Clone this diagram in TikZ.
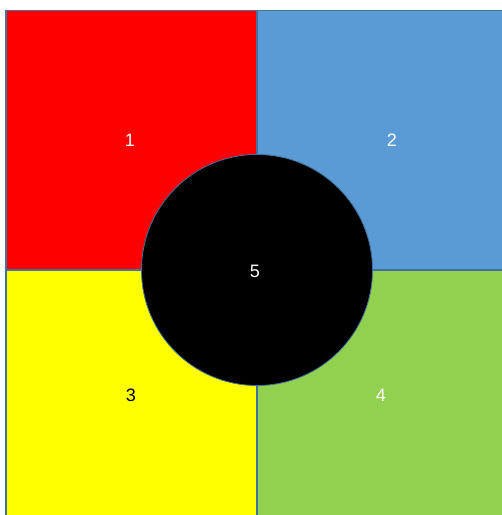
\documentclass[tikz,border=0pt]{standalone}
\usepackage{fontspec}
\setmainfont{Liberation Sans}
\definecolor{pred}{HTML}{FF0000}
\definecolor{pblue}{HTML}{5B9BD5}
\definecolor{pyellow}{HTML}{FFFF00}
\definecolor{pgreen}{HTML}{92D050}
\definecolor{pline}{HTML}{41719C}
\begin{document}
\begin{tikzpicture}[x=1pt,y=-1pt,
  quad/.style={draw=pline,line width=1.2pt},
  lbl/.style={font=\fontsize{18}{18}\selectfont,text=white,inner sep=0pt}]
\useasboundingbox (0,0) rectangle (502,515);
\fill[white] (0,0) rectangle (502,515);
\path[quad,fill=pred] (6,10.5) rectangle (257,270);
\path[quad,fill=pblue] (257,10.5) rectangle (504,270);
\path[quad,fill=pyellow] (6,270) rectangle (257,517);
\path[quad,fill=pgreen] (257,270) rectangle (504,517);
\node[circle,draw=pline,line width=0.8pt,fill=black,minimum size=231pt,inner sep=0pt] (c) at (257,270) {};
\node[lbl] (n1) at (130,140) {1};
\node[lbl] (n2) at (392,140) {2};
\node[lbl,text=black] (n3) at (131,395) {3};
\node[lbl] (n4) at (381,395) {4};
\node[lbl] (n5) at (255,271) {5};
\end{tikzpicture}
\end{document}
